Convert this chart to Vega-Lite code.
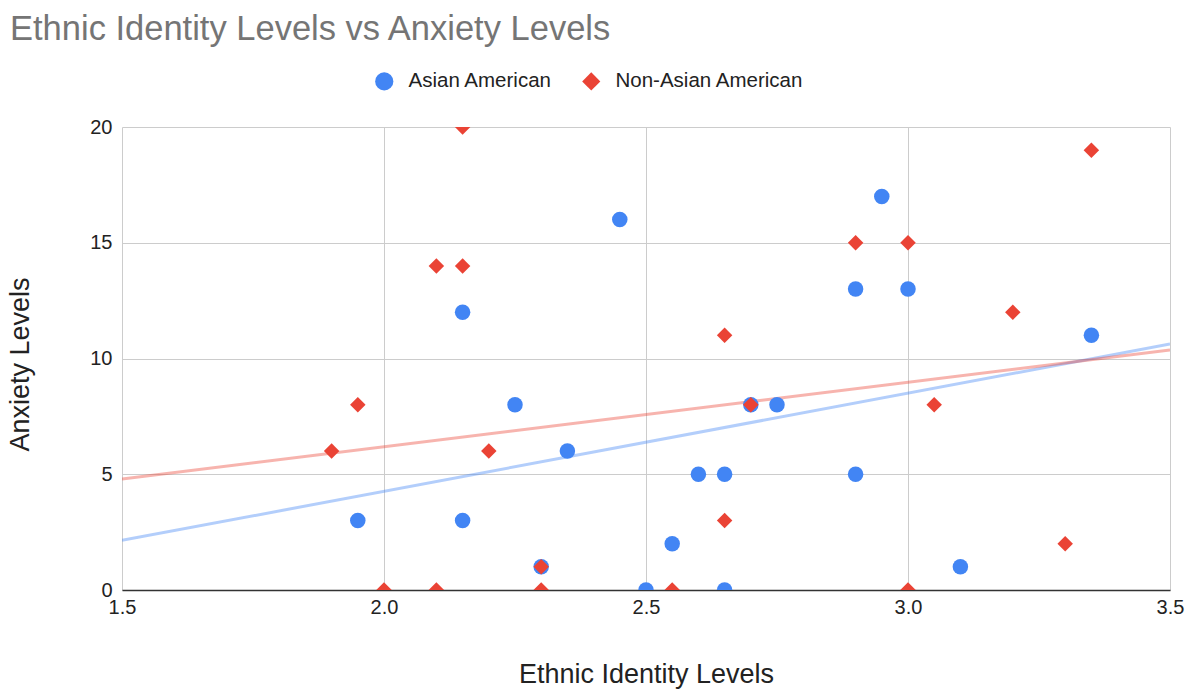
{
  "$schema": "https://vega.github.io/schema/vega-lite/v6.json",
  "width": 1048,
  "height": 463,
  "autosize": {"type": "none"},
  "padding": {"left": 122, "top": 127, "right": 16, "bottom": 100},
  "background": "white",
  "title": {
    "text": "Ethnic Identity Levels vs Anxiety Levels",
    "anchor": "start",
    "frame": "group",
    "font": "Liberation Sans",
    "fontSize": 34.5,
    "fontWeight": "normal",
    "color": "#757575",
    "dx": -112,
    "dy": -16,
    "offset": 8
  },
  "config": {
    "font": "Liberation Sans",
    "view": {"stroke": null},
    "axis": {
      "labelFont": "Liberation Sans",
      "labelFontSize": 20,
      "labelColor": "#222222",
      "labelFlush": false,
      "titleFont": "Liberation Sans",
      "titleFontSize": 27,
      "titleFontWeight": "normal",
      "titleColor": "#222222",
      "gridColor": "#cccccc",
      "gridWidth": 1,
      "ticks": false
    }
  },
  "data": {
    "values": [
      {"group": "Asian American", "identity": 1.95, "anxiety": 3},
      {"group": "Asian American", "identity": 2.15, "anxiety": 12},
      {"group": "Asian American", "identity": 2.15, "anxiety": 3},
      {"group": "Asian American", "identity": 2.25, "anxiety": 8},
      {"group": "Asian American", "identity": 2.3, "anxiety": 1},
      {"group": "Asian American", "identity": 2.35, "anxiety": 6},
      {"group": "Asian American", "identity": 2.45, "anxiety": 16},
      {"group": "Asian American", "identity": 2.5, "anxiety": 0},
      {"group": "Asian American", "identity": 2.55, "anxiety": 2},
      {"group": "Asian American", "identity": 2.6, "anxiety": 5},
      {"group": "Asian American", "identity": 2.65, "anxiety": 5},
      {"group": "Asian American", "identity": 2.65, "anxiety": 0},
      {"group": "Asian American", "identity": 2.7, "anxiety": 8},
      {"group": "Asian American", "identity": 2.75, "anxiety": 8},
      {"group": "Asian American", "identity": 2.9, "anxiety": 13},
      {"group": "Asian American", "identity": 2.9, "anxiety": 5},
      {"group": "Asian American", "identity": 2.95, "anxiety": 17},
      {"group": "Asian American", "identity": 3.0, "anxiety": 13},
      {"group": "Asian American", "identity": 3.1, "anxiety": 1},
      {"group": "Asian American", "identity": 3.35, "anxiety": 11},
      {"group": "Non-Asian American", "identity": 1.9, "anxiety": 6},
      {"group": "Non-Asian American", "identity": 1.95, "anxiety": 8},
      {"group": "Non-Asian American", "identity": 2.0, "anxiety": 0},
      {"group": "Non-Asian American", "identity": 2.1, "anxiety": 14},
      {"group": "Non-Asian American", "identity": 2.1, "anxiety": 0},
      {"group": "Non-Asian American", "identity": 2.15, "anxiety": 20},
      {"group": "Non-Asian American", "identity": 2.15, "anxiety": 14},
      {"group": "Non-Asian American", "identity": 2.2, "anxiety": 6},
      {"group": "Non-Asian American", "identity": 2.3, "anxiety": 1},
      {"group": "Non-Asian American", "identity": 2.3, "anxiety": 0},
      {"group": "Non-Asian American", "identity": 2.55, "anxiety": 0},
      {"group": "Non-Asian American", "identity": 2.65, "anxiety": 11},
      {"group": "Non-Asian American", "identity": 2.65, "anxiety": 3},
      {"group": "Non-Asian American", "identity": 2.7, "anxiety": 8},
      {"group": "Non-Asian American", "identity": 2.9, "anxiety": 15},
      {"group": "Non-Asian American", "identity": 3.0, "anxiety": 15},
      {"group": "Non-Asian American", "identity": 3.0, "anxiety": 0},
      {"group": "Non-Asian American", "identity": 3.05, "anxiety": 8},
      {"group": "Non-Asian American", "identity": 3.2, "anxiety": 12},
      {"group": "Non-Asian American", "identity": 3.3, "anxiety": 2},
      {"group": "Non-Asian American", "identity": 3.35, "anxiety": 19}
    ]
  },
  "layer": [
    {
      "transform": [
        {"filter": "datum.group === 'Asian American'"},
        {"regression": "anxiety", "on": "identity", "extent": [1.5, 3.5]}
      ],
      "mark": {"type": "line", "strokeWidth": 3, "color": "#4285F4", "opacity": 0.4, "clip": true},
      "encoding": {
        "x": {"field": "identity", "type": "quantitative"},
        "y": {"field": "anxiety", "type": "quantitative"}
      }
    },
    {
      "transform": [
        {"filter": "datum.group === 'Non-Asian American'"},
        {"regression": "anxiety", "on": "identity", "extent": [1.5, 3.5]}
      ],
      "mark": {"type": "line", "strokeWidth": 3, "color": "#EA4335", "opacity": 0.4, "clip": true},
      "encoding": {
        "x": {"field": "identity", "type": "quantitative"},
        "y": {"field": "anxiety", "type": "quantitative"}
      }
    },
    {
      "mark": {"type": "point", "filled": true, "opacity": 1, "clip": true, "size": 240},
      "encoding": {
        "x": {
          "field": "identity",
          "type": "quantitative",
          "scale": {"domain": [1.5, 3.5], "nice": false, "zero": false},
          "axis": {
            "title": "Ethnic Identity Levels",
            "values": [1.5, 2.0, 2.5, 3.0, 3.5],
            "format": ".1f",
            "labelPadding": 7,
            "titlePadding": 44,
            "domainColor": "#333333",
            "domainWidth": 1.5
          }
        },
        "y": {
          "field": "anxiety",
          "type": "quantitative",
          "scale": {"domain": [0, 20], "nice": false},
          "axis": {
            "title": "Anxiety Levels",
            "values": [0, 5, 10, 15, 20],
            "labelPadding": 10,
            "titlePadding": 55,
            "titleY": 237,
            "domain": false
          }
        },
        "color": {
          "field": "group",
          "type": "nominal",
          "scale": {"domain": ["Asian American", "Non-Asian American"], "range": ["#4285F4", "#EA4335"]},
          "legend": {
            "title": null,
            "orient": "none",
            "direction": "horizontal",
            "legendX": 252,
            "legendY": -56,
            "labelFont": "Liberation Sans",
            "labelFontSize": 20.5,
            "labelColor": "#222222",
            "labelLimit": 400,
            "symbolSize": 330,
            "labelOffset": 14,
            "columnPadding": 28,
            "encode": {"symbols": {"update": {"size": {"value": 330}}}}
          }
        },
        "shape": {
          "field": "group",
          "type": "nominal",
          "scale": {"domain": ["Asian American", "Non-Asian American"], "range": ["circle", "diamond"]}
        }
      }
    }
  ]
}
